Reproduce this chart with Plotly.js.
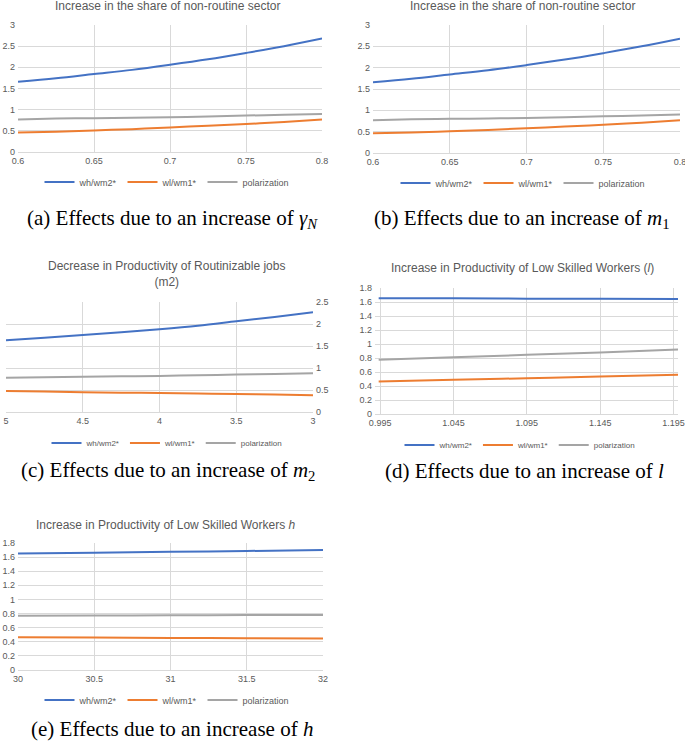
<!DOCTYPE html>
<html>
<head>
<meta charset="utf-8">
<script src="https://cdn.plot.ly/plotly-3.0.1.min.js"></script>
<style>html,body{margin:0;padding:0;background:#fff}#chart{width:685px;height:743px}</style>
</head>
<body>
<div id="chart"></div>
<script>
// ---- data ----
const seriesNames = ["wh/wm2*", "wl/wm1*", "polarization"];
const colors = ["#4472C4", "#ED7D31", "#A5A5A5"];

// (a) share of non-routine sector (gamma_N)
const xA = [0.6, 0.625, 0.65, 0.675, 0.7, 0.725, 0.75, 0.775, 0.8];
const whA = [1.66, 1.74, 1.84, 1.94, 2.06, 2.19, 2.34, 2.50, 2.68];
const wlA = [0.46, 0.48, 0.51, 0.54, 0.58, 0.62, 0.66, 0.71, 0.77];
const polA = [0.77, 0.79, 0.80, 0.81, 0.82, 0.84, 0.86, 0.88, 0.90];

// (b) m1
const xB = [0.6, 0.625, 0.65, 0.675, 0.7, 0.725, 0.75, 0.775, 0.8];
const whB = [1.66, 1.74, 1.84, 1.94, 2.06, 2.19, 2.34, 2.50, 2.68];
const wlB = [0.46, 0.48, 0.51, 0.54, 0.58, 0.62, 0.66, 0.71, 0.77];
const polB = [0.77, 0.79, 0.80, 0.81, 0.82, 0.84, 0.86, 0.88, 0.90];

// (c) m2 (decreasing)
const xC = [5, 4.75, 4.5, 4.25, 4, 3.75, 3.5, 3.25, 3];
const whC = [1.63, 1.69, 1.75, 1.81, 1.88, 1.96, 2.06, 2.16, 2.27];
const wlC = [0.48, 0.465, 0.45, 0.44, 0.43, 0.42, 0.41, 0.395, 0.38];
const polC = [0.78, 0.79, 0.80, 0.81, 0.82, 0.835, 0.85, 0.865, 0.88];

// (d) l
const xD = [0.994, 1.045, 1.095, 1.145, 1.198];
const whD = [1.655, 1.652, 1.648, 1.645, 1.643];
const wlD = [0.463, 0.488, 0.511, 0.535, 0.559];
const polD = [0.774, 0.81, 0.845, 0.88, 0.92];

// (e) h
const xE = [30, 30.5, 31, 31.5, 32];
const whE = [1.65, 1.662, 1.675, 1.687, 1.70];
const wlE = [0.464, 0.459, 0.455, 0.45, 0.445];
const polE = [0.77, 0.773, 0.775, 0.778, 0.78];

const titles = [
  "Increase in the share of non-routine sector",
  "Increase in the share of non-routine sector",
  "Decrease in Productivity of Routinizable jobs<br>(m2)",
  "Increase in Productivity of Low Skilled Workers (<i>l</i>)",
  "Increase in Productivity of Low Skilled Workers <i>h</i>"
];
const captions = [
  "(a) Effects due to an increase of <i>γ</i><sub><i>N</i></sub>",
  "(b) Effects due to an increase of <i>m</i><sub>1</sub>",
  "(c) Effects due to an increase of <i>m</i><sub>2</sub>",
  "(d) Effects due to an increase of <i>l</i>",
  "(e) Effects due to an increase of <i>h</i>"
];

// ---- layout helpers ----
const W = 685, H = 743;
const px = v => v / W;
const py = v => 1 - v / H;

const panels = [
  {x: xA, ys: [whA, wlA, polA], dom: [18, 322, 25, 152], yr: [0, 3], dt: 0.5, xr: [0.6, 0.8], xt: 0.05,
   title: [167, 6], leg: [167, 182, 9], cap: [172, 219]},
  {x: xB, ys: [whB, wlB, polB], dom: [373, 680, 25, 153], yr: [0, 3], dt: 0.5, xr: [0.6, 0.8], xt: 0.05,
   title: [522, 6], leg: [523, 183, 9], cap: [522, 219]},
  {x: xC, ys: [whC, wlC, polC], dom: [6, 313, 302, 412], yr: [0, 2.5], dt: 0.5, xr: [5, 3], xt: 0.5,
   title: [166, 274], leg: [167, 443, 8], cap: [168, 471], right: true},
  {x: xD, ys: [whD, wlD, polD], dom: [375, 678, 288, 414], yr: [0, 1.8], dt: 0.2, xr: [0.9915, 1.198],
   xvals: [0.995, 1.045, 1.095, 1.145, 1.195], title: [522, 268], leg: [520, 445, 8], cap: [524, 471]},
  {x: xE, ys: [whE, wlE, polE], dom: [18, 323, 543, 670], yr: [0, 1.8], dt: 0.2, xr: [30, 32], xt: 0.5,
   title: [166, 525], leg: [167, 700, 9], cap: [172, 729]}
];

const traces = [];
const layout = {
  width: W, height: H,
  margin: {l: 0, r: 0, t: 0, b: 0},
  paper_bgcolor: "#fff", plot_bgcolor: "#fff",
  font: {family: "Liberation Sans, Arial, sans-serif", color: "#595959", size: 9},
  showlegend: true,
  annotations: []
};

panels.forEach((p, i) => {
  const n = i + 1;
  const xa = n === 1 ? "xaxis" : "xaxis" + n;
  const ya = n === 1 ? "yaxis" : "yaxis" + n;
  const lg = n === 1 ? "legend" : "legend" + n;
  p.ys.forEach((ys, k) => {
    traces.push({
      type: "scatter", mode: "lines", x: p.x, y: ys, name: seriesNames[k],
      line: {color: colors[k], width: 2, shape: "spline"},
      xaxis: "x" + (n === 1 ? "" : n), yaxis: "y" + (n === 1 ? "" : n),
      legend: lg, hoverinfo: "skip"
    });
  });
  const xaxis = {
    domain: [px(p.dom[0]), px(p.dom[1])],
    anchor: "y" + (n === 1 ? "" : n),
    range: p.xr, showgrid: true, gridcolor: "#D9D9D9", gridwidth: 1,
    zeroline: false, showline: true, linecolor: "#D9D9D9", linewidth: 1,
    ticks: "", tickfont: {size: 9, color: "#595959"}, ticklabeloverflow: "allow"
  };
  if (p.xvals) { xaxis.tickmode = "array"; xaxis.tickvals = p.xvals; xaxis.ticktext = p.xvals.map(v => String(v)); }
  else { xaxis.tickmode = "linear"; xaxis.tick0 = p.xr[0]; xaxis.dtick = p.xt; }
  const yaxis = {
    domain: [py(p.dom[3]), py(p.dom[2])],
    anchor: "x" + (n === 1 ? "" : n),
    range: p.yr, tickmode: "linear", tick0: 0, dtick: p.dt,
    showgrid: true, gridcolor: "#D9D9D9", gridwidth: 1, zeroline: false,
    showline: false, ticks: "", tickfont: {size: 9, color: "#595959"},
    ticklabeloverflow: "allow", ticklabelstandoff: 2,
    side: p.right ? "right" : "left"
  };
  layout[xa] = xaxis;
  layout[ya] = yaxis;
  layout[lg] = {
    orientation: "h", x: px(p.leg[0]), y: py(p.leg[1]), xanchor: "center", yanchor: "middle",
    font: {size: p.leg[2], color: "#595959"}, bgcolor: "rgba(0,0,0,0)",
    itemwidth: 30, tracegroupgap: 0, itemclick: false
  };
  layout.annotations.push({
    text: titles[i], xref: "paper", yref: "paper", x: px(p.title[0]), y: py(p.title[1]),
    xanchor: "center", yanchor: "middle", showarrow: false,
    font: {size: 12, color: "#595959", family: "Liberation Sans, Arial, sans-serif"}
  });
  layout.annotations.push({
    text: captions[i], xref: "paper", yref: "paper", x: px(p.cap[0]), y: py(p.cap[1]),
    xanchor: "center", yanchor: "middle", showarrow: false,
    font: {size: 21, color: "#000", family: "Liberation Serif, DejaVu Serif, serif"}
  });
});

Plotly.newPlot("chart", traces, layout, {staticPlot: true, displayModeBar: false});
</script>
</body>
</html>
